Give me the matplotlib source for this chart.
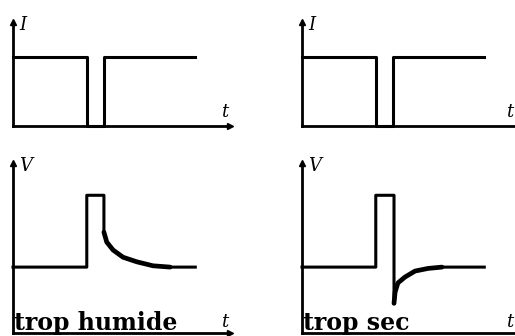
import matplotlib
matplotlib.use("Agg")
import matplotlib.pyplot as plt

# courant I(t) : creneau avec coupure
t_I = [0, 3.4, 3.4, 4.2, 4.2, 8.4]
I_vals = [1, 1, 0, 0, 1, 1]

# tension V(t), cas "trop humide"
t_hum = [0, 3.4, 3.4, 4.19, 4.19, 4.32, 4.61, 5.07, 5.71, 6.45, 7.24, 8.4]
V_hum = [1, 1, 2.09, 2.09, 1.53, 1.38, 1.26, 1.15, 1.08, 1.02, 1.0, 1.0]

# tension V(t), cas "trop sec"
t_sec = [0, 3.4, 3.4, 4.24, 4.24, 4.29, 4.42, 4.75, 5.21, 5.81, 6.45, 8.4]
V_sec = [1, 1, 2.09, 2.09, 0.45, 0.62, 0.76, 0.85, 0.94, 0.98, 1.0, 1.0]

labels = ["trop humide", "trop sec"]

W, H = 515, 336
fig = plt.figure(figsize=(W / 100, H / 100), dpi=100)


def axe(left, bottom, top, ymax):
    ax = fig.add_axes([left / W, (H - bottom) / H, 217 / W, (bottom - top) / H])
    ax.set_xlim(0, 10)
    ax.set_ylim(0, ymax)
    for s in ["top", "right"]:
        ax.spines[s].set_visible(False)
    for s in ["left", "bottom"]:
        ax.spines[s].set_linewidth(2)
    ax.set_xticks([])
    ax.set_yticks([])
    ax.patch.set_alpha(0)
    ax.plot(1, 0, ">k", ms=4, transform=ax.get_yaxis_transform(), clip_on=False)
    ax.plot(0, 1, "^k", ms=4, transform=ax.get_xaxis_transform(), clip_on=False)
    return ax


serif = dict(family="DejaVu Serif", style="italic", fontsize=13)

for left in [13, 302]:
    ax = axe(left, 126, 22, 1.5)
    ax.plot(t_I, I_vals, color="black", lw=2.2, clip_on=False)
    ax.text(0.03, 0.97, "I", transform=ax.transAxes, va="center", **serif)
    tx = 0.975 if left < 100 else 0.955
    ax.text(tx, 0.13, "t", transform=ax.transAxes, ha="center", va="center", **serif)

for left, t, v, lab in [(13, t_hum, V_hum, labels[0]), (302, t_sec, V_sec, labels[1])]:
    ax = axe(left, 333, 163, 2.58)
    ax.plot(t, v, color="black", lw=2.2, clip_on=False)
    ax.plot(t[4:-1], v[4:-1], color="black", lw=3.4, solid_capstyle="round", clip_on=False)
    ax.text(0.03, 0.985, "V", transform=ax.transAxes, va="center", **serif)
    tx = 0.975 if left < 100 else 0.955
    ax.text(tx, 0.065, "t", transform=ax.transAxes, ha="center", va="center", **serif)
    ax.text(0.005, 0.06, lab, transform=ax.transAxes, va="center",
            family="DejaVu Serif", weight="bold", fontsize=17)

fig.savefig("out.png", dpi=100)
